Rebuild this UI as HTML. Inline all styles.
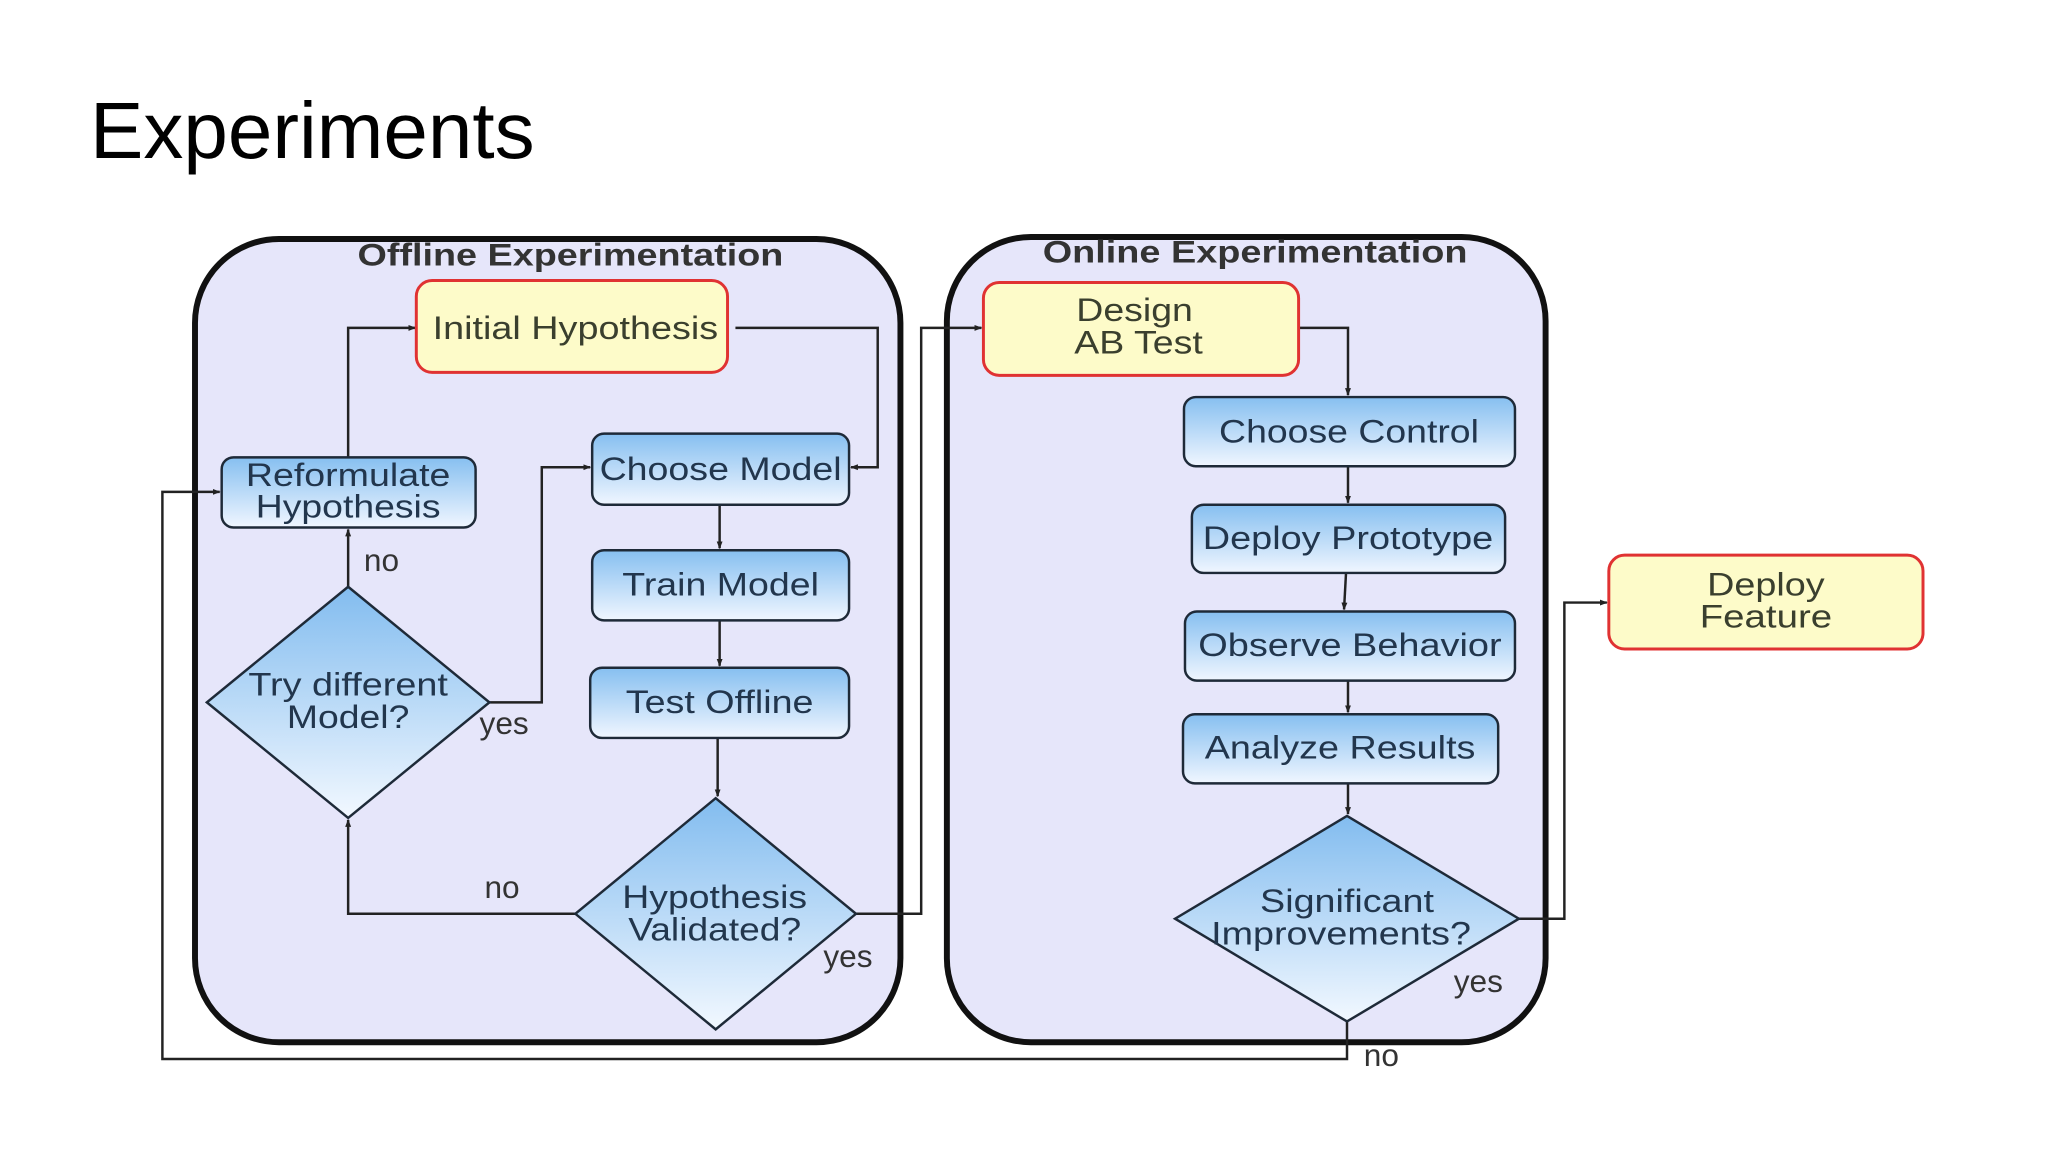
<!DOCTYPE html>
<html><head><meta charset="utf-8"><style>
html,body{margin:0;padding:0;background:#fff;}
svg{display:block;}
text{font-family:"Liberation Sans",sans-serif;}
</style></head><body>
<svg width="2048" height="1152" viewBox="0 0 2048 1152" xmlns="http://www.w3.org/2000/svg">
<defs>
<linearGradient id="bl" x1="0" y1="0" x2="0" y2="1">
<stop offset="0" stop-color="#86bff0"/><stop offset="1" stop-color="#f0f6ff"/></linearGradient>
<linearGradient id="dm" x1="0" y1="0" x2="0" y2="1">
<stop offset="0" stop-color="#82bcef"/><stop offset="1" stop-color="#f2f8ff"/></linearGradient>
<marker id="a" markerWidth="8" markerHeight="8" refX="7" refY="4" orient="auto" markerUnits="userSpaceOnUse">
<path d="M0,1 L8,4 L0,7 z" fill="#222"/></marker>
</defs>
<text x="90" y="158" font-size="80" fill="#000">Experiments</text>

<g transform="translate(195,238) scale(0.988) translate(-195,-240)">
<rect x="195" y="241" width="714" height="813" rx="85" fill="#e6e6fa" stroke="#111" stroke-width="6"/>
<rect x="956" y="239" width="606" height="815" rx="85" fill="#e6e6fa" stroke="#111" stroke-width="6"/>
<g lengthAdjust="spacingAndGlyphs">
<text x="575" y="268" font-size="32" font-weight="bold" fill="#333" text-anchor="middle" textLength="431" lengthAdjust="spacingAndGlyphs">Offline Experimentation</text>
<text x="1268" y="265" font-size="32" font-weight="bold" fill="#333" text-anchor="middle" textLength="430" lengthAdjust="spacingAndGlyphs">Online Experimentation</text>
</g>

<g fill="none" stroke="#222" stroke-width="2.5">
<polyline points="350,462 350,331 418,331" marker-end="url(#a)"/>
<polyline points="742,331 886,331 886,472 859,472" marker-end="url(#a)"/>
<polyline points="726,510 726,554" marker-end="url(#a)"/>
<polyline points="726,627 726,673" marker-end="url(#a)"/>
<polyline points="724,746 724,805" marker-end="url(#a)"/>
<polyline points="580,924 350,924 350,829" marker-end="url(#a)"/>
<polyline points="350,593 350,535" marker-end="url(#a)"/>
<polyline points="493,710 546,710 546,472 595,472" marker-end="url(#a)"/>
<polyline points="864,924 930,924 930,331 991,331" marker-end="url(#a)"/>
<polyline points="1312,331 1362,331 1362,399" marker-end="url(#a)"/>
<polyline points="1362,471 1362,508" marker-end="url(#a)"/>
<polyline points="1360,579 1358,616" marker-end="url(#a)"/>
<polyline points="1362,688 1362,720" marker-end="url(#a)"/>
<polyline points="1362,792 1362,823" marker-end="url(#a)"/>
<polyline points="1535,929 1581,929 1581,609 1624,609" marker-end="url(#a)"/>
<polyline points="1361,1033 1361,1071 162,1071 162,497 220,497" marker-end="url(#a)"/>
</g>

<g stroke="#e03232" stroke-width="3" fill="#fdfbc9">
<rect x="419" y="283" width="315" height="93" rx="16"/>
<rect x="993" y="285" width="319" height="94" rx="16"/>
<rect x="1626" y="561" width="318" height="95" rx="16"/>
</g>
<g font-size="33" fill="#3a3f2e" text-anchor="middle">
<text x="580" y="342" textLength="289" lengthAdjust="spacingAndGlyphs">Initial Hypothesis</text>
<text x="1146" y="324" textLength="118" lengthAdjust="spacingAndGlyphs">Design</text>
<text x="1150" y="357" textLength="130" lengthAdjust="spacingAndGlyphs">AB Test</text>
<text x="1785" y="602" textLength="119" lengthAdjust="spacingAndGlyphs">Deploy</text>
<text x="1785" y="634" textLength="134" lengthAdjust="spacingAndGlyphs">Feature</text>
</g>

<g stroke="#1e2a38" stroke-width="2.5" fill="url(#bl)">
<rect x="222" y="462" width="257" height="71" rx="12"/>
<rect x="597" y="438" width="260" height="72" rx="12"/>
<rect x="597" y="556" width="260" height="71" rx="12"/>
<rect x="595" y="675" width="262" height="71" rx="12"/>
<rect x="1196" y="401" width="335" height="70" rx="12"/>
<rect x="1204" y="510" width="317" height="69" rx="12"/>
<rect x="1197" y="618" width="334" height="70" rx="12"/>
<rect x="1195" y="722" width="319" height="70" rx="12"/>
</g>
<g stroke="#1e2a38" stroke-width="2.5" fill="url(#dm)">
<polygon points="350,593 493,710 350,827 207,710"/>
<polygon points="722,807 864,924 722,1041 580,924"/>
<polygon points="1361,825 1535,929 1361,1033 1187,929"/>
</g>
<g font-size="33" fill="#22364d" text-anchor="middle">
<text x="350" y="491" textLength="207" lengthAdjust="spacingAndGlyphs">Reformulate</text>
<text x="350" y="523" textLength="187" lengthAdjust="spacingAndGlyphs">Hypothesis</text>
<text x="727" y="485" textLength="245" lengthAdjust="spacingAndGlyphs">Choose Model</text>
<text x="727" y="602" textLength="199" lengthAdjust="spacingAndGlyphs">Train Model</text>
<text x="726" y="721" textLength="190" lengthAdjust="spacingAndGlyphs">Test Offline</text>
<text x="1363" y="447" textLength="263" lengthAdjust="spacingAndGlyphs">Choose Control</text>
<text x="1362" y="555" textLength="294" lengthAdjust="spacingAndGlyphs">Deploy Prototype</text>
<text x="1364" y="663" textLength="307" lengthAdjust="spacingAndGlyphs">Observe Behavior</text>
<text x="1354" y="767" textLength="274" lengthAdjust="spacingAndGlyphs">Analyze Results</text>
<text x="350" y="703" textLength="202" lengthAdjust="spacingAndGlyphs">Try different</text>
<text x="350" y="736" textLength="124" lengthAdjust="spacingAndGlyphs">Model?</text>
<text x="721" y="918" textLength="187" lengthAdjust="spacingAndGlyphs">Hypothesis</text>
<text x="721" y="951" textLength="175" lengthAdjust="spacingAndGlyphs">Validated?</text>
<text x="1361" y="922" textLength="176" lengthAdjust="spacingAndGlyphs">Significant</text>
<text x="1355" y="955" textLength="263" lengthAdjust="spacingAndGlyphs">Improvements?</text>
</g>
<g font-size="32" fill="#333">
<text x="366" y="577">no</text>
<text x="483" y="742">yes</text>
<text x="488" y="908">no</text>
<text x="831" y="978">yes</text>
<text x="1469" y="1003">yes</text>
<text x="1378" y="1078">no</text>
</g>
</g>
</svg>
</body></html>
